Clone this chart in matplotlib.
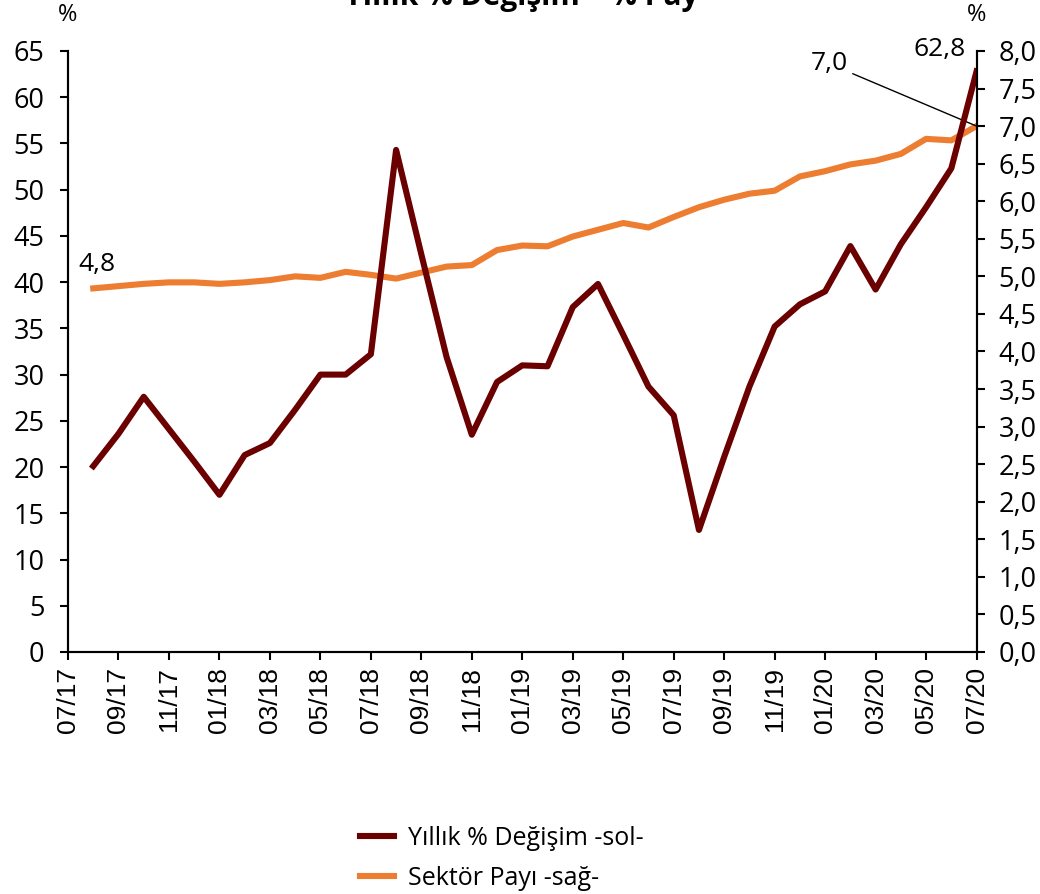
import matplotlib
matplotlib.use("Agg")
import matplotlib.pyplot as plt

# Monthly data 08/17 - 07/20
months = list(range(1, 37))
yillik_degisim = [20.1, 23.6, 27.6, 24.1, 20.6, 17.0, 21.3, 22.6, 26.2, 30.0,
                  30.0, 32.2, 54.3, 43.0, 31.9, 23.5, 29.2, 31.0, 30.9, 37.3,
                  39.8, 34.3, 28.7, 25.6, 13.2, 21.1, 28.7, 35.2, 37.6, 39.0,
                  43.9, 39.2, 44.1, 48.1, 52.3, 62.8]
sektor_payi = [4.84, 4.87, 4.90, 4.92, 4.92, 4.90, 4.92, 4.95, 5.00, 4.98,
               5.06, 5.02, 4.97, 5.05, 5.13, 5.15, 5.35, 5.41, 5.40, 5.53,
               5.62, 5.71, 5.65, 5.79, 5.92, 6.02, 6.10, 6.14, 6.33, 6.40,
               6.49, 6.54, 6.63, 6.83, 6.81, 7.00]
tick_pos = list(range(0, 37, 2))
tick_labels = ["07/17", "09/17", "11/17", "01/18", "03/18", "05/18", "07/18",
               "09/18", "11/18", "01/19", "03/19", "05/19", "07/19", "09/19",
               "11/19", "01/20", "03/20", "05/20", "07/20"]

dark = "#6B0000"
orange = "#ED7D31"

plt.rcParams["font.family"] = ["Open Sans", "DejaVu Sans"]

fig = plt.figure(figsize=(10.4, 8.94), dpi=100)
ax = fig.add_axes([0.0654, 0.2707, 0.8736, 0.6723])
ax2 = ax.twinx()

l1, = ax.plot(months, yillik_degisim, color=dark, linewidth=4.4,
              label="Yıllık % Değişim -sol-")
l2, = ax2.plot(months, sektor_payi, color=orange, linewidth=4.4,
               label="Sektör Payı -sağ-")
ax.set_zorder(ax2.get_zorder() + 1)
ax.patch.set_visible(False)

ax.set_xlim(0, 36)
ax.set_ylim(0, 65)
ax.set_yticks(range(0, 70, 5))
ax2.set_ylim(0, 8)
ax2.set_yticks([i * 0.5 for i in range(17)])
ax2.set_yticklabels([f"{i * 0.5:.1f}".replace(".", ",") for i in range(17)])

ax.set_xticks(tick_pos)
ax.set_xticklabels(tick_labels, rotation=90)

for a in (ax, ax2):
    a.spines["top"].set_visible(False)
    for s in a.spines.values():
        s.set_linewidth(1.5)
    a.tick_params(direction="out", length=6, width=1.5, labelsize=19.5)
ax.tick_params(axis="y", pad=11)
ax2.tick_params(axis="y", pad=10)
ax.tick_params(axis="x", pad=5)
for lab in ax.get_xticklabels():
    lab.set_fontfamily(["Liberation Sans", "DejaVu Sans"])
    lab.set_fontsize(19)

# % labels on top of axes
fig.text(0.0654, 0.983, "%", ha="center", va="center", fontsize=17)
fig.text(0.939, 0.983, "%", ha="center", va="center", fontsize=17)

# title (partly cut at the top as in the source)
fig.text(0.501, 0.994, "Yıllık % Değişim – % Pay", ha="center",
         va="baseline", fontsize=21.5, fontweight="bold")

# value labels
ax2.annotate("4,8", xy=(months[0], sektor_payi[0]), xytext=(3, 8),
             textcoords="offset points", ha="center", va="bottom", fontsize=19)
ax.annotate("62,8", xy=(months[-1], yillik_degisim[-1]), xytext=(-8, 7),
            textcoords="offset points", ha="right", va="bottom", fontsize=19)
ax2.annotate("7,0", xy=(months[-1], sektor_payi[-1]), xytext=(-93, 36),
             textcoords="offset points", ha="right", va="bottom", fontsize=19,
             arrowprops=dict(arrowstyle="-", color="black", linewidth=1,
                             shrinkA=2, shrinkB=0))

fig.legend(handles=[l1, l2], loc="upper left",
           bbox_to_anchor=(0.337, 0.087), frameon=False, fontsize=18,
           handlelength=1.36, handletextpad=0.56, labelspacing=0.6,
           borderaxespad=0)

fig.savefig("out.png", dpi=100)
